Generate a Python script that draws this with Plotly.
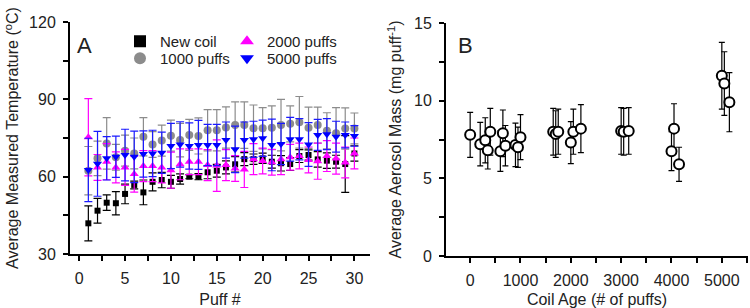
import plotly.graph_objects as go

# ---------------- Panel A data ----------------
puff = list(range(1, 31))

new_coil = [41.9, 46.8, 49.9, 49.7, 53.3, 56.8, 53.9, 58.0, 58.7, 58.0,
            59.1, 60.0, 60.0, 61.7, 62.3, 63.6, 64.8, 66.8, 66.8, 67.1,
            65.8, 65.2, 64.9, 68.0, 68.4, 66.7, 66.2, 65.8, 64.9, 69.0]
new_coil_err = [6.8, 4.8, 3.0, 4.5, 3.8, 1.5, 4.8, 3.5, 3.0, 2.5,
                2.0, 0.8, 1.2, 2.5, 2.5, 2.5, 3.0, 2.5, 2.0, 2.0,
                2.5, 3.0, 2.5, 2.5, 2.0, 3.0, 3.0, 2.5, 11.0, 3.0]

p1000 = [62.3, 67.1, 72.9, 67.5, 70.1, 69.0, 75.5, 72.5, 74.0, 75.9,
         74.2, 76.2, 75.8, 78.0, 78.0, 79.1, 80.0, 80.0, 78.8, 78.8,
         79.0, 80.0, 80.5, 81.1, 79.0, 80.0, 77.8, 76.8, 78.7, 78.7]
p1000_err = [9.4, 6.7, 10.0, 5.0, 6.0, 6.0, 7.4, 5.0, 6.0, 6.0,
             6.5, 6.0, 7.0, 8.0, 8.0, 8.0, 9.0, 9.0, 9.0, 8.0,
             8.5, 10.0, 7.0, 10.0, 8.0, 7.0, 7.0, 10.0, 8.0, 6.0]

p2000 = [75.3, 63.6, 65.8, 63.6, 63.6, 61.0, 64.1, 64.1, 63.6, 62.5,
         64.8, 65.8, 65.8, 64.5, 64.3, 64.5, 63.2, 62.8, 66.8, 66.1,
         65.6, 66.8, 67.5, 68.0, 66.5, 66.0, 68.0, 67.0, 65.5, 69.0]
p2000_err = [15.0, 5.0, 7.0, 6.0, 7.0, 7.0, 6.0, 6.0, 6.0, 7.0,
             6.0, 5.0, 5.0, 6.0, 10.0, 6.0, 5.0, 7.0, 6.0, 5.0,
             5.0, 6.0, 5.0, 5.0, 5.0, 7.0, 6.0, 6.0, 6.0, 6.0]

p5000 = [62.6, 65.0, 67.1, 67.7, 68.4, 67.7, 68.8, 69.0, 69.3, 71.9,
         72.5, 71.9, 72.3, 72.3, 72.3, 74.2, 70.6, 74.2, 74.5, 74.9,
         72.3, 72.7, 74.5, 74.5, 72.5, 76.2, 76.5, 75.5, 76.2, 75.8]
p5000_err = [12.3, 12.6, 8.4, 8.0, 10.0, 10.0, 9.0, 9.0, 8.0, 8.8,
             8.8, 9.0, 9.5, 8.0, 8.0, 7.0, 9.0, 7.0, 7.0, 7.0,
             10.0, 8.0, 8.5, 8.0, 8.5, 6.0, 6.0, 6.0, 5.0, 4.0]

# ---------------- Panel B data ----------------
coil_age = [0, 200, 300, 350, 400, 600, 650, 700, 900, 950, 1000,
            1650, 1700, 1750, 2000, 2050, 2200, 3000, 3050, 3150,
            4000, 4050, 4150, 5000, 5050, 5150]
aerosol = [7.8, 7.2, 7.45, 6.8, 8.0, 6.75, 7.9, 7.1, 7.15, 7.0, 7.65,
           8.0, 7.85, 8.0, 7.3, 8.0, 8.2, 8.05, 8.0, 8.05,
           6.75, 8.2, 5.9, 11.6, 11.1, 9.9]
aerosol_err = [1.45, 1.4, 1.45, 1.2, 1.5, 1.3, 1.5, 1.3, 1.4, 1.3, 1.45,
               1.5, 1.5, 1.45, 1.35, 1.45, 1.55, 1.5, 1.5, 1.5,
               1.25, 1.6, 1.1, 2.15, 2.05, 1.9]

FONT = "Liberation Sans, Arial, sans-serif"
TXT = "#222222"

fig = go.Figure()

series = [
    ("New coil", new_coil, new_coil_err, "#000000", "square", 6, "#000000"),
    ("1000 puffs", p1000, p1000_err, "#8c8c8c", "circle", 8, "#8c8c8c"),
    ("2000 puffs", p2000, p2000_err, "#ff00ff", "triangle-up", 8, "#ff00ff"),
    ("5000 puffs", p5000, p5000_err, "#0000ff", "triangle-down", 8, "#1a1aff"),
]
for name, vals, errs, col, sym, sz, ecol in series:
    fig.add_trace(go.Scatter(
        x=puff, y=vals, mode="markers", name=name, showlegend=False,
        marker=dict(symbol=sym, size=sz, color=col, line=dict(width=0)),
        error_y=dict(type="data", array=errs, visible=True, color=ecol,
                     thickness=1.2, width=4),
        xaxis="x", yaxis="y"))

W, H = 750, 308

# legend entries (larger symbols): one small legend per entry, 2 x 2 grid
legend_items = [("New coil", "#000000", "square", "legend", 120, 25),
                ("1000 puffs", "#8c8c8c", "circle", "legend2", 120, 42),
                ("2000 puffs", "#ff00ff", "triangle-up", "legend3", 227, 25),
                ("5000 puffs", "#0000ff", "triangle-down", "legend4", 227, 42)]
legend_layouts = {}
for name, col, sym, lg, lx, ly in legend_items:
    fig.add_trace(go.Scatter(
        x=[None], y=[None], mode="markers", name=name, legend=lg,
        marker=dict(symbol=sym, size=12, color=col),
        xaxis="x", yaxis="y"))
    legend_layouts[lg] = dict(x=lx / W, y=1 - ly / H, xanchor="left",
                              yanchor="top", bgcolor="rgba(0,0,0,0)",
                              font=dict(family=FONT, size=15, color=TXT),
                              itemwidth=30)

fig.add_trace(go.Scatter(
    x=coil_age, y=aerosol, mode="markers", showlegend=False,
    marker=dict(symbol="circle", size=10, color="white",
                line=dict(color="black", width=2)),
    error_y=dict(type="data", array=aerosol_err, visible=True, color="black",
                 thickness=1.2, width=3),
    xaxis="x2", yaxis="y2"))

axis_common = dict(showline=True, linecolor="black", linewidth=2,
                   ticks="outside", ticklen=5, tickwidth=2, tickcolor="black",
                   showgrid=False, zeroline=False, automargin=False,
                   ticklabelstandoff=4,
                   tickfont=dict(family=FONT, size=16, color=TXT),
                   title_font=dict(family=FONT, size=16, color=TXT))
minor_common = dict(ticks="outside", ticklen=5, tickwidth=2, tickcolor="black")

fig.update_layout(
    width=W, height=H,
    margin=dict(l=0, r=0, t=0, b=0, autoexpand=False),
    paper_bgcolor="white", plot_bgcolor="white",
    font=dict(family=FONT, size=15, color=TXT),
    xaxis=dict(axis_common, domain=[70 / W, 370 / W], range=[-1, 31.7],
               tickvals=[0, 5, 10, 15, 20, 25, 30],
               minor=dict(minor_common, dtick=2.5, tick0=0),
               title=dict(text="Puff #", standoff=9), anchor="y"),
    yaxis=dict(axis_common, domain=[1 - 254 / H, 1 - 22 / H], range=[30, 120],
               tickvals=[30, 60, 90, 120],
               minor=dict(minor_common, dtick=15, tick0=30),
               title=dict(text="Average Measured Temperature (<sup>o</sup>C)",
                          standoff=6), anchor="x"),
    xaxis2=dict(axis_common, domain=[446 / W, 748 / W], range=[-480, 5520],
                tickvals=[0, 1000, 2000, 3000, 4000, 5000],
                minor=dict(minor_common, dtick=500, tick0=0),
                title=dict(text="Coil Age (# of puffs)", standoff=9),
                anchor="y2"),
    yaxis2=dict(axis_common, domain=[1 - 256 / H, 1 - 23 / H], range=[0, 15],
                tickvals=[0, 5, 10, 15],
                minor=dict(minor_common, dtick=2.5, tick0=0),
                title=dict(text="Average Aerosol Mass (mg puff<sup>-1</sup>)",
                           standoff=8), anchor="x2"),
    annotations=[
        dict(text="A", x=84 / W, y=1 - 45.5 / H, xref="paper", yref="paper",
             showarrow=False, font=dict(family=FONT, size=22, color=TXT),
             xanchor="center", yanchor="middle"),
        dict(text="B", x=466 / W, y=1 - 45.5 / H, xref="paper", yref="paper",
             showarrow=False, font=dict(family=FONT, size=22, color=TXT),
             xanchor="center", yanchor="middle"),
    ],
    **legend_layouts,
)

fig.write_html("out.html",
               config={"displayModeBar": False},
               post_script="document.body.style.margin='0';"
                           "document.body.style.overflow='hidden';")
